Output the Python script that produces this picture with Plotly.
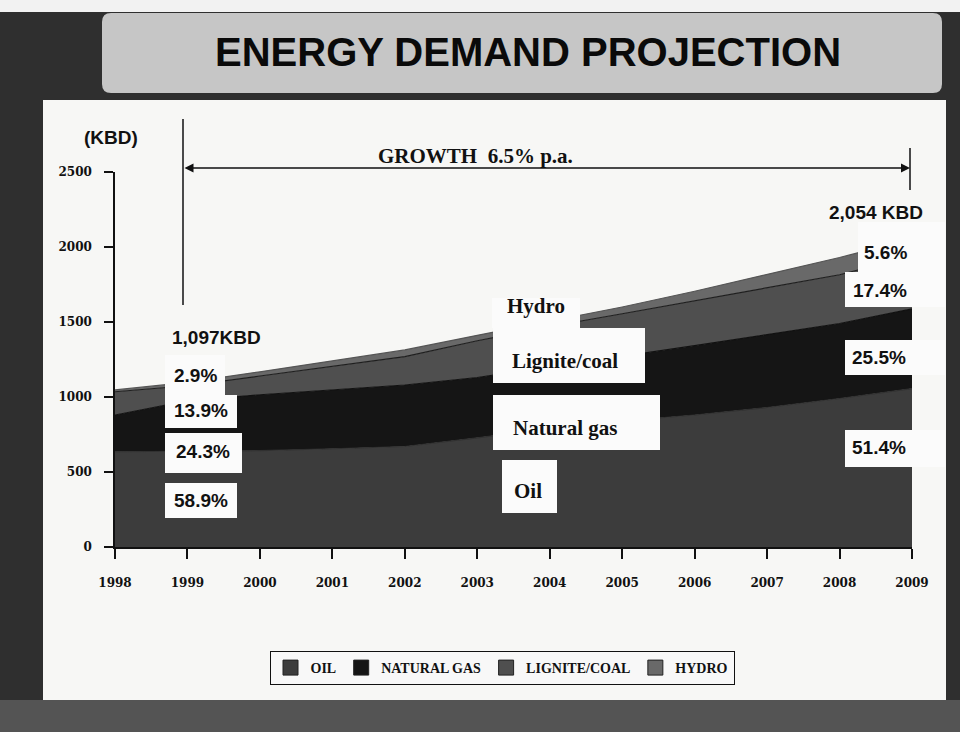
import plotly.graph_objects as go

# ---------------- data ----------------
years = [1998, 1999, 2000, 2001, 2002, 2003, 2004, 2005, 2006, 2007, 2008, 2009]
oil = [635, 638, 642, 655, 670, 728, 790, 840, 880, 930, 990, 1056]
natural_gas = [245, 337, 373, 395, 410, 402, 410, 428, 462, 486, 500, 532]
lignite_coal = [155, 100, 125, 155, 189, 245, 270, 287, 298, 314, 325, 352]
hydro = [12, 22, 28, 35, 45, 36, 35, 45, 65, 85, 115, 114]

series_names = ["Oil", "Natural gas", "Lignite/coal", "Hydro"]
legend_labels = ["OIL", "NATURAL GAS", "LIGNITE/COAL", "HYDRO"]
y_ticks = [0, 500, 1000, 1500, 2000, 2500]

share_1999 = ["2.9%", "13.9%", "24.3%", "58.9%"]
share_2009 = ["5.6%", "17.4%", "25.5%", "51.4%"]
total_1999 = "1,097KBD"
total_2009 = "2,054 KBD"
growth_text = "GROWTH\u00a0 6.5% p.a."

# ---------------- styling ----------------
fills = ["#3c3c3c", "#151515", "#4f4f4f", "#696969"]
lines = ["#303030", "#111111", "#1e1e1e", "#555555"]

W, H = 960, 732
L, R, T, B = 115, 912, 172, 547


def fx(px):
    return (px - L) / (R - L)


def fy(py):
    return (B - py) / (B - T)


fig = go.Figure()
for name, vals, fc, lc in zip(series_names, [oil, natural_gas, lignite_coal, hydro], fills, lines):
    fig.add_trace(go.Scatter(
        x=years, y=vals, name=name, stackgroup="one", mode="lines",
        line=dict(color=lc, width=1.2), fillcolor=fc, showlegend=False,
        hoverinfo="x+y+name",
    ))

# legend entries (square swatches)
for lab, fc in zip(legend_labels, fills):
    fig.add_trace(go.Scatter(
        x=[None], y=[None], mode="markers", name=lab,
        marker=dict(symbol="square", size=15, color=fc, line=dict(color="#222", width=1)),
        showlegend=True,
    ))

shapes = []


def rect(x0, y0, x1, y1, color, layer="below", line=None):
    d = dict(type="rect", xref="paper", yref="paper",
             x0=fx(x0), x1=fx(x1), y0=fy(y1), y1=fy(y0),
             fillcolor=color, layer=layer, line=dict(width=0))
    if line:
        d["line"] = line
    shapes.append(d)


def rounded(x0, y0, x1, y1, r, color):
    pts = (
        f"M {fx(x0 + r)},{fy(y0)} L {fx(x1 - r)},{fy(y0)} "
        f"Q {fx(x1)},{fy(y0)} {fx(x1)},{fy(y0 + r)} L {fx(x1)},{fy(y1 - r)} "
        f"Q {fx(x1)},{fy(y1)} {fx(x1 - r)},{fy(y1)} L {fx(x0 + r)},{fy(y1)} "
        f"Q {fx(x0)},{fy(y1)} {fx(x0)},{fy(y1 - r)} L {fx(x0)},{fy(y0 + r)} "
        f"Q {fx(x0)},{fy(y0)} {fx(x0 + r)},{fy(y0)} Z"
    )
    shapes.append(dict(type="path", xref="paper", yref="paper", path=pts,
                       fillcolor=color, line=dict(width=0), layer="below"))


# background frame pieces
rect(0, 0, 960, 12, "#f2f2f2")
rect(0, 700, 960, 732, "#545454")
rect(43, 100, 946, 700, "#f7f7f5")
rounded(102, 13, 942, 93, 9, "#c6c6c6")

# growth lines
shapes.append(dict(type="line", xref="paper", yref="paper", x0=fx(183), x1=fx(183),
                   y0=fy(119), y1=fy(305), line=dict(color="#111", width=1.5), layer="above"))
shapes.append(dict(type="line", xref="paper", yref="paper", x0=fx(910), x1=fx(910),
                   y0=fy(148), y1=fy(190), line=dict(color="#111", width=1.5), layer="above"))

# white label boxes
white = "#fbfbfb"
for box in [(165, 355, 225, 395), (165, 395, 237, 428), (165, 433, 242, 473), (165, 483, 237, 518),
            (492, 298, 580, 328), (493, 328, 645, 383), (493, 395, 660, 450), (502, 460, 557, 513),
            (858, 222, 945, 272), (845, 272, 945, 307), (845, 340, 945, 375), (845, 430, 945, 467)]:
    rect(*box, white, layer="above")

annotations = []


def text(px, py, s, size, family, color="#111", bold=True):
    annotations.append(dict(
        xref="paper", yref="paper", x=fx(px), y=fy(py), text=("<b>%s</b>" % s) if bold else s,
        showarrow=False, xanchor="center", yanchor="middle",
        font=dict(family=family, size=size, color=color)))


SANS = "Liberation Sans, Arial, sans-serif"
SERIF = "Liberation Serif, Times New Roman, serif"

text(528, 52, "ENERGY DEMAND PROJECTION", 40, SANS, "#0a0a0a")
text(111, 137, "(KBD)", 19, SANS)
text(475, 156, growth_text, 21, SERIF)
text(216, 337, total_1999, 19, SANS)
for s, (cx, cy) in zip(share_1999, [(195, 375), (201, 410), (203, 452), (201, 500)]):
    text(cx, cy, s, 19, SANS)
text(876, 212, total_2009, 19, SANS)
for s, (cx, cy) in zip(share_2009, [(885, 252), (880, 290), (879, 357), (879, 447)]):
    text(cx, cy, s, 19, SANS)
for s, (cx, cy) in zip(["Hydro", "Lignite/coal", "Natural gas", "Oil"],
                       [(536, 306), (565, 361), (565, 428), (528, 491)]):
    text(cx, cy, s, 21, SERIF)

# double headed growth arrow
annotations.append(dict(
    xref="paper", yref="paper", x=fx(910), y=fy(168), ax=-(910 - 183), ay=0,
    axref="pixel", ayref="pixel", text="", showarrow=True, arrowhead=2, startarrowhead=2,
    arrowside="end+start", arrowsize=1.2, arrowwidth=1.5, arrowcolor="#111"))

fig.update_layout(
    width=W, height=H,
    margin=dict(l=L, r=W - R, t=T, b=H - B),
    paper_bgcolor="#2f2f2f",
    plot_bgcolor="rgba(0,0,0,0)",
    shapes=shapes,
    annotations=annotations,
    showlegend=True,
    legend=dict(
        orientation="h", x=fx(502), y=fy(651), xanchor="center", yanchor="top",
        bgcolor="#f8f8f8", bordercolor="#111", borderwidth=1, traceorder="normal",
        font=dict(family=SERIF, size=14, color="#111", weight="bold"),
        itemclick=False, itemdoubleclick=False, tracegroupgap=0,
    ),
    xaxis=dict(
        range=[1998, 2009], tickvals=years, ticktext=[str(y) for y in years],
        showgrid=False, zeroline=False, showline=True, linecolor="#111", linewidth=1.5,
        ticks="outside", ticklen=10, tickwidth=1.5, tickcolor="#111",
        tickfont=dict(family="DejaVu Serif, serif", size=12, color="#111", weight="bold"),
        ticklabelstandoff=14, fixedrange=True,
    ),
    yaxis=dict(
        range=[0, 2500], tickvals=y_ticks, ticktext=[str(v) for v in y_ticks],
        showgrid=False, zeroline=False, showline=True, linecolor="#111", linewidth=1.5,
        ticks="outside", ticklen=9, tickwidth=1.5, tickcolor="#111",
        tickfont=dict(family="DejaVu Serif, serif", size=12, color="#111", weight="bold"),
        ticklabelstandoff=10, fixedrange=True,
    ),
)

fig.write_html("out.html", config={"displayModeBar": False},
               post_script="document.body.style.margin='0';")
